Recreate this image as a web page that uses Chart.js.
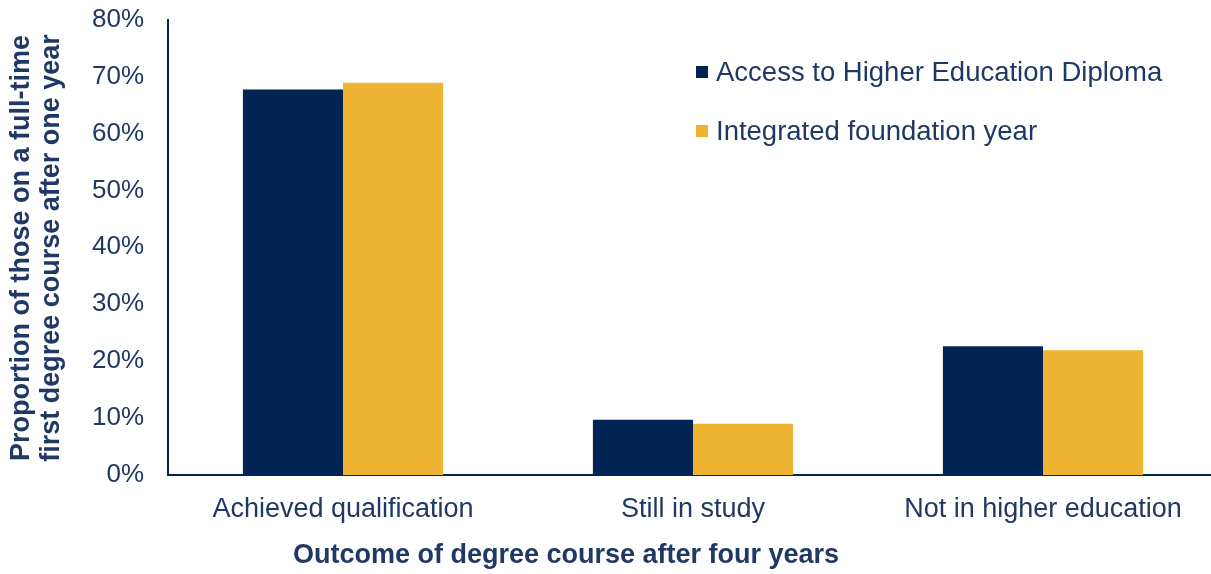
<!DOCTYPE html>
<html>
<head>
<meta charset="utf-8">
<script src="https://cdn.jsdelivr.net/npm/chart.js@4.4.0/dist/chart.umd.min.js"></script>
<style>
  html, body { margin: 0; padding: 0; background: #fff; overflow: hidden; }
  /* shifted up so the 80% tick sits close to the top edge, like the original */
  #wrap { width: 1222px; height: 594px; margin-top: -20px; }
</style>
</head>
<body>
<div id="wrap"><canvas id="chart"></canvas></div>
<script>
var categories = ['Achieved qualification', 'Still in study', 'Not in higher education']
var seriesNames = ['Access to Higher Education Diploma', 'Integrated foundation year']
var accessValues = [67.7, 9.7, 22.6]
var foundationValues = [68.9, 9.0, 21.9]
var yTicks = [0, 10, 20, 30, 40, 50, 60, 70, 80]
var yTitleLines = ['Proportion of those on a full-time', 'first degree course after one year']
var xTitle = 'Outcome of degree course after four years'

var navy = '#002454'
var gold = '#f0b435'
var textColor = '#1f3864'
var font = 'Liberation Sans, Arial, sans-serif'

// legend + titles drawn by hand
var extras = {
    id: 'extras',
    afterDraw: function (chart) {
        var c = chart.ctx
        c.save()
        c.translate(0, 20)
        c.textBaseline = 'middle'
        c.textAlign = 'left'
        c.font = '27.5px ' + font
        chart.data.datasets.forEach(function (ds, i) {
            var y = 72 + i * 59
            c.fillStyle = ds.backgroundColor
            c.fillRect(696, y - 6, 12, 12)
            c.fillStyle = textColor
            c.fillText(ds.label, 716, y + 1)
        })
        c.font = 'bold 27px ' + font
        c.textAlign = 'center'
        c.fillText(xTitle, 566, 556)
        c.rotate(-Math.PI / 2)
        c.fillText(yTitleLines[0], -248, 22)
        c.fillText(yTitleLines[1], -248, 52)
        c.restore()
    }
}

new Chart(document.getElementById('chart'), {
    type: 'bar',
    data: {
        labels: categories,
        datasets: [{
            label: seriesNames[0],
            data: accessValues,
            backgroundColor: navy
        }, {
            label: seriesNames[1],
            data: foundationValues,
            backgroundColor: gold
        }]
    },
    options: {
        responsive: true,
        maintainAspectRatio: false,
        animation: false,
        layout: { padding: { top: 2, right: 4, left: 0, bottom: 0 } },
        datasets: { bar: { categoryPercentage: 0.572, barPercentage: 1 } },
        plugins: { legend: { display: false }, tooltip: { enabled: false } },
        scales: {
            x: {
                grid: { display: false, drawTicks: false },
                border: { color: navy, width: 2 },
                ticks: { color: textColor, font: { family: font, size: 27 }, padding: 18 },
                afterFit: function (s) { s.height = 99 }
            },
            y: {
                min: 0,
                max: 80,
                afterBuildTicks: function (s) { s.ticks = yTicks.map(function (v) { return { value: v } }) },
                grid: { display: false, drawTicks: false },
                border: { color: navy, width: 2 },
                ticks: {
                    color: textColor,
                    font: { family: font, size: 26 },
                    padding: 24,
                    callback: function (v) { return v + '%' }
                },
                afterFit: function (s) { s.width = 168 }
            }
        }
    },
    plugins: [extras]
})
</script>
</body>
</html>
